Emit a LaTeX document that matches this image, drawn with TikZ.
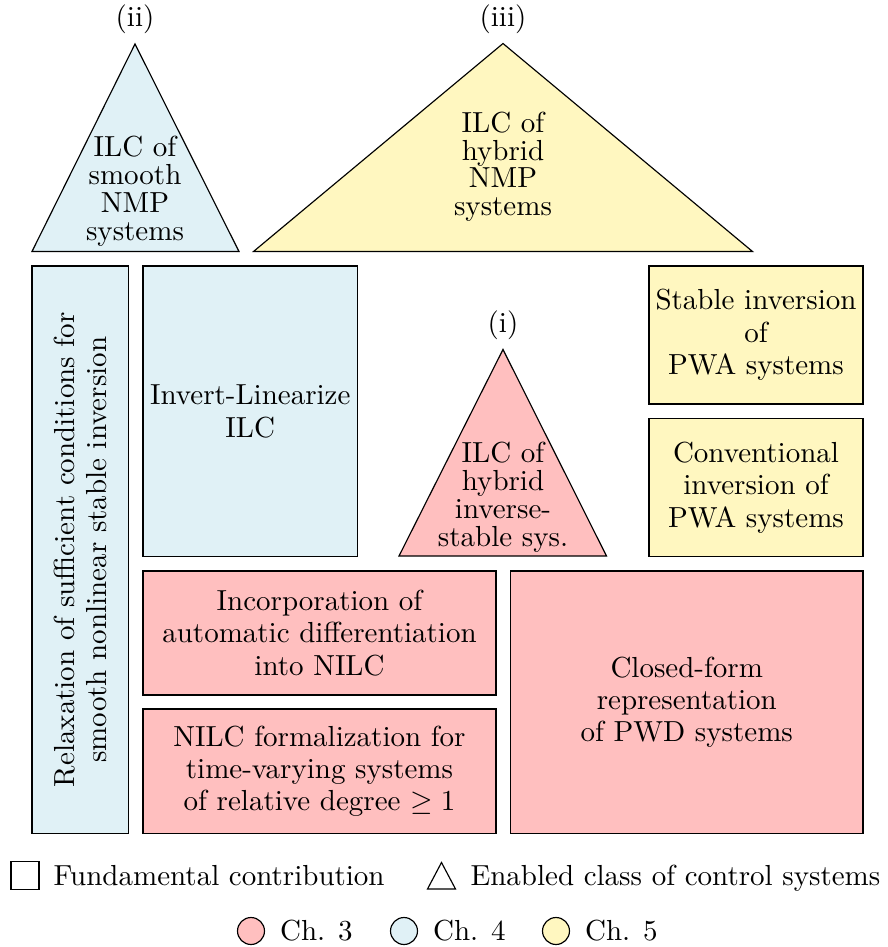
\documentclass[tikz,border=0pt]{standalone}
\usepackage{tikz}
\usepackage{xcolor}
\usetikzlibrary{positioning}

\definecolor{chthree}{RGB}{255,191,191}
\definecolor{chfour}{RGB}{224,241,246}
\definecolor{chfive}{RGB}{255,247,192}

\tikzset{
  contrib/.style={draw=black, fill=#1},
  enabled/.style={draw=black, fill=#1},
  boxtext/.style={align=center, font=\fontsize{10}{11.2}\selectfont},
  tritext/.style={align=center, font=\fontsize{10}{9.6}\selectfont},
  legtext/.style={inner sep=0pt, font=\fontsize{10}{12}\selectfont}
}

\begin{document}
\begin{tikzpicture}[x=0.3448pt, y=-0.3448pt]
\useasboundingbox (0,0) rectangle (888,947);

\draw[enabled=chfour] (32,251.5) -- (135,44) coordinate (apexii) -- (239,251.5) -- cycle;
\node[tritext] (trii) at (135,191.3) {ILC of\\smooth\\NMP\\systems};
\node[above=0pt of apexii] (labii) {(ii)};

\draw[enabled=chfive] (253.5,251.5) -- (503,43.5) coordinate (apexiii) -- (752.5,251.5) -- cycle;
\node[tritext] (triii) at (503,166.8) {ILC of\\hybrid\\NMP\\systems};
\node[above=0pt of apexiii] (labiii) {(iii)};

\draw[enabled=chthree] (399,556) -- (503,349.5) coordinate (apexi) -- (606.5,556) -- cycle;
\node[tritext] (tri) at (503,497) {ILC of\\hybrid\\inverse-\\stable sys.};
\node[above=0pt of apexi] (labi) {(i)};

\draw[contrib=chfour] (32,266) rectangle (128.5,833.5) node[midway, boxtext, rotate=90] (relax) {Relaxation of sufficient conditions for\\smooth nonlinear stable inversion};
\draw[contrib=chfour] (143,266) rectangle (357.5,556.5) node[midway, boxtext] (invlin) {Invert-Linearize\\ILC};
\draw[contrib=chfive] (649,266) rectangle (863,404) node[midway, boxtext] (stabinv) {Stable inversion\\of\\PWA systems};
\draw[contrib=chfive] (649,418.5) rectangle (863,556.5) node[midway, boxtext] (convinv) {Conventional\\inversion of\\PWA systems};
\draw[contrib=chthree] (143,571) rectangle (496,695) node[midway, boxtext] (autodiff) {Incorporation of\\automatic differentiation\\into NILC};
\draw[contrib=chthree] (143,709) rectangle (496,833.5) node[midway, boxtext] (nilc) {NILC formalization for\\time-varying systems\\of relative degree $\geq 1$};
\draw[contrib=chthree] (510.5,571) rectangle (863,833.5) node[midway, boxtext] (closedform) {Closed-form\\representation\\of PWD systems};

\node[draw, minimum size=9.6pt, inner sep=0pt] (legsq) at (25,875.5) {};
\node[legtext, right=4.7pt of legsq] (legsqtxt) {Fundamental contribution};
\draw (427.5,889) -- (441.5,862.5) coordinate (legtri) -- (455.5,889) -- cycle;
\node[legtext, anchor=base west] (legtritxt) at (470,885.5) {Enabled class of control systems};

\foreach \col/\xc/\n in {chthree/251/3, chfour/404/4, chfive/556/5}{
  \node[circle, draw, fill=\col, minimum size=9.3pt, inner sep=0pt] (ch\n) at (\xc,931) {};
  \node[legtext, right=5pt of ch\n] (ch\n txt) {Ch. \n};
}
\end{tikzpicture}
\end{document}
